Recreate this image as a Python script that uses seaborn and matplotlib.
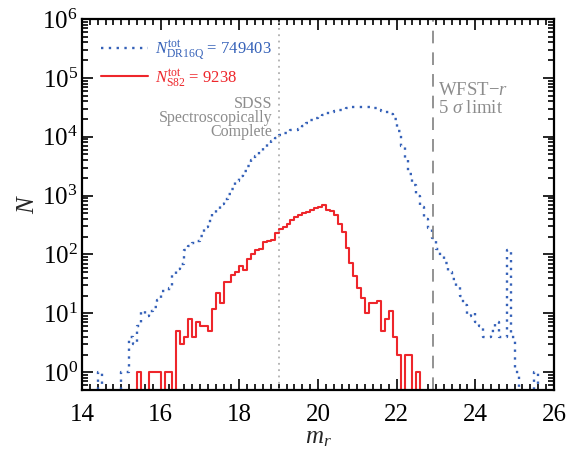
import numpy as np
import pandas as pd
import matplotlib
matplotlib.use("Agg")
import matplotlib.pyplot as plt
import seaborn as sns
from matplotlib.ticker import MultipleLocator, LogLocator, FixedLocator, NullFormatter

# r-band magnitude histogram, 0.1 mag bins from 14.0 to 26.0
mag_min = 14.0
mag_max = 26.0
bin_width = 0.1

# DR16Q quasar counts per bin (rows = 1 mag each)
dr16q_counts = [
    0, 0, 0, 0, 1, 0, 0, 0, 0, 0,
    1, 1, 4, 3, 6, 11, 9, 11, 13, 17,
    24, 24, 27, 47, 56, 68, 120, 138, 155, 170,
    204, 288, 372, 479, 562, 708, 871, 1047, 1318, 1778,
    2188, 2630, 3162, 3981, 4786, 5754, 6607, 7586, 8511, 9550,
    10715, 11482, 12303, 12882, 13183, 13804, 15488, 17378, 19055, 20893,
    22387, 23442, 25119, 26303, 27542, 28840, 29512, 30903, 31623, 32359,
    32359, 32359, 32359, 31623, 30200, 28840, 27542, 26303, 23988, 19953,
    12589, 7079, 3981, 2291, 1514, 1000, 631, 398, 282, 191,
    126, 95, 71, 50, 38, 28, 20, 14, 9, 10,
    7, 6, 4, 4, 5, 7, 4, 4, 120, 4,
    1, 0, 0, 0, 0, 1, 0, 0, 0, 0,
]

# Stripe 82 quasar counts per bin
s82_counts = [
    0, 0, 0, 0, 0, 0, 0, 0, 0, 0,
    0, 0, 0, 0, 1, 0, 0, 1, 1, 1,
    0, 1, 1, 0, 5, 3, 4, 8, 4, 7,
    6, 6, 5, 12, 22, 15, 34, 34, 45, 50,
    65, 55, 85, 100, 120, 125, 165, 170, 175, 230,
    270, 290, 330, 380, 430, 470, 500, 520, 580, 620,
    640, 680, 580, 550, 460, 330, 240, 130, 72, 43,
    27, 18, 10, 15, 15, 16, 5, 8, 11, 4,
    2, 0, 2, 2, 0, 1, 0, 0, 0, 0,
    0, 0, 0, 0, 0, 0, 0, 0, 0, 0,
    0, 0, 0, 0, 0, 0, 0, 0, 0, 0,
    0, 0, 0, 0, 0, 0, 0, 0, 0, 0,
]

dr16q_total = 749403
s82_total = 9238
sdss_complete_mag = 19.0
wfst_limit_mag = 22.92
y_decades = [1e0, 1e1, 1e2, 1e3, 1e4, 1e5, 1e6]

serif = "Liberation Serif"
sns.set_theme(style="ticks")
plt.rcParams["font.family"] = [serif, "DejaVu Serif"]
plt.rcParams["mathtext.fontset"] = "custom"
plt.rcParams["mathtext.rm"] = serif
plt.rcParams["mathtext.it"] = serif + ":italic"
plt.rcParams["mathtext.bf"] = serif + ":bold"

# step outlines: left bin edges plus the closing right edge
edges = np.round(np.arange(mag_min, mag_max + bin_width / 2, bin_width), 2)
steps = pd.DataFrame({
    "mag": edges,
    "dr16q": dr16q_counts + dr16q_counts[-1:],
    "s82": s82_counts + s82_counts[-1:],
})

blue = "#3561b8"
red = "#ee262b"

fig = plt.figure(figsize=(5.67, 4.51), dpi=100)
ax = fig.add_axes([0.1446, 0.1353, 0.8324, 0.8226])

sns.lineplot(data=steps, x="mag", y="dr16q", estimator=None, sort=False,
             drawstyle="steps-post", color=blue, linewidth=1.7,
             linestyle=(0, (1, 2.3)), ax=ax,
             label=r"$N^{\rm tot}_{\rm DR16Q}$ = " + str(dr16q_total))
sns.lineplot(data=steps, x="mag", y="s82", estimator=None, sort=False,
             drawstyle="steps-post", color=red, linewidth=1.5, ax=ax,
             label=r"$N^{\rm tot}_{\rm S82}$ = " + str(s82_total))

ax.set_yscale("log")
ax.set_xlim(mag_min, mag_max)
ax.set_ylim(0.5, 1e6)

ax.axvline(sdss_complete_mag, color="#b0b0b0", linestyle=(0, (1, 2.5)), linewidth=1.3)
ax.axvline(wfst_limit_mag, color="#8a8a8a", linestyle=(0, (7, 5)), linewidth=1.3)

gray_text = "#8c8c8c"
ax.text(sdss_complete_mag - 0.15, 2.1e4, "SDSS\nSpectroscopically\nComplete",
        ha="right", va="center", color=gray_text, fontsize=11.5, linespacing=0.82)
ax.text(wfst_limit_mag + 0.12, 4.3e4, "WFST$-r$\n5 $\\sigma$ limit",
        ha="left", va="center", color=gray_text, fontsize=13.5, linespacing=1.1)

ax.legend(loc="upper left", frameon=False, fontsize=12,
          handlelength=2.8, handletextpad=0.45, labelspacing=0.3,
          borderaxespad=0.75, labelcolor="linecolor")

ax.set_xlabel(r"$m_r$", fontsize=18, labelpad=1)
ax.set_ylabel(r"$N$", fontsize=18, labelpad=2)

ax.xaxis.set_major_locator(MultipleLocator(2))
ax.xaxis.set_minor_locator(MultipleLocator(0.2))
ax.yaxis.set_major_locator(FixedLocator(y_decades))
ax.yaxis.set_minor_locator(LogLocator(base=10, subs=np.arange(2, 10), numticks=10))
ax.yaxis.set_minor_formatter(NullFormatter())

ax.tick_params(which="both", direction="in", top=True, right=True,
               colors="black", width=1.2, labelfontfamily=serif)
ax.tick_params(which="major", length=8, labelsize=18)
ax.tick_params(which="minor", length=4)
ax.tick_params(axis="x", which="major", pad=10)
ax.tick_params(axis="y", which="major", pad=3)

for spine in ax.spines.values():
    spine.set_linewidth(1.6)
    spine.set_color("black")

fig.savefig("out.png", dpi=100)
